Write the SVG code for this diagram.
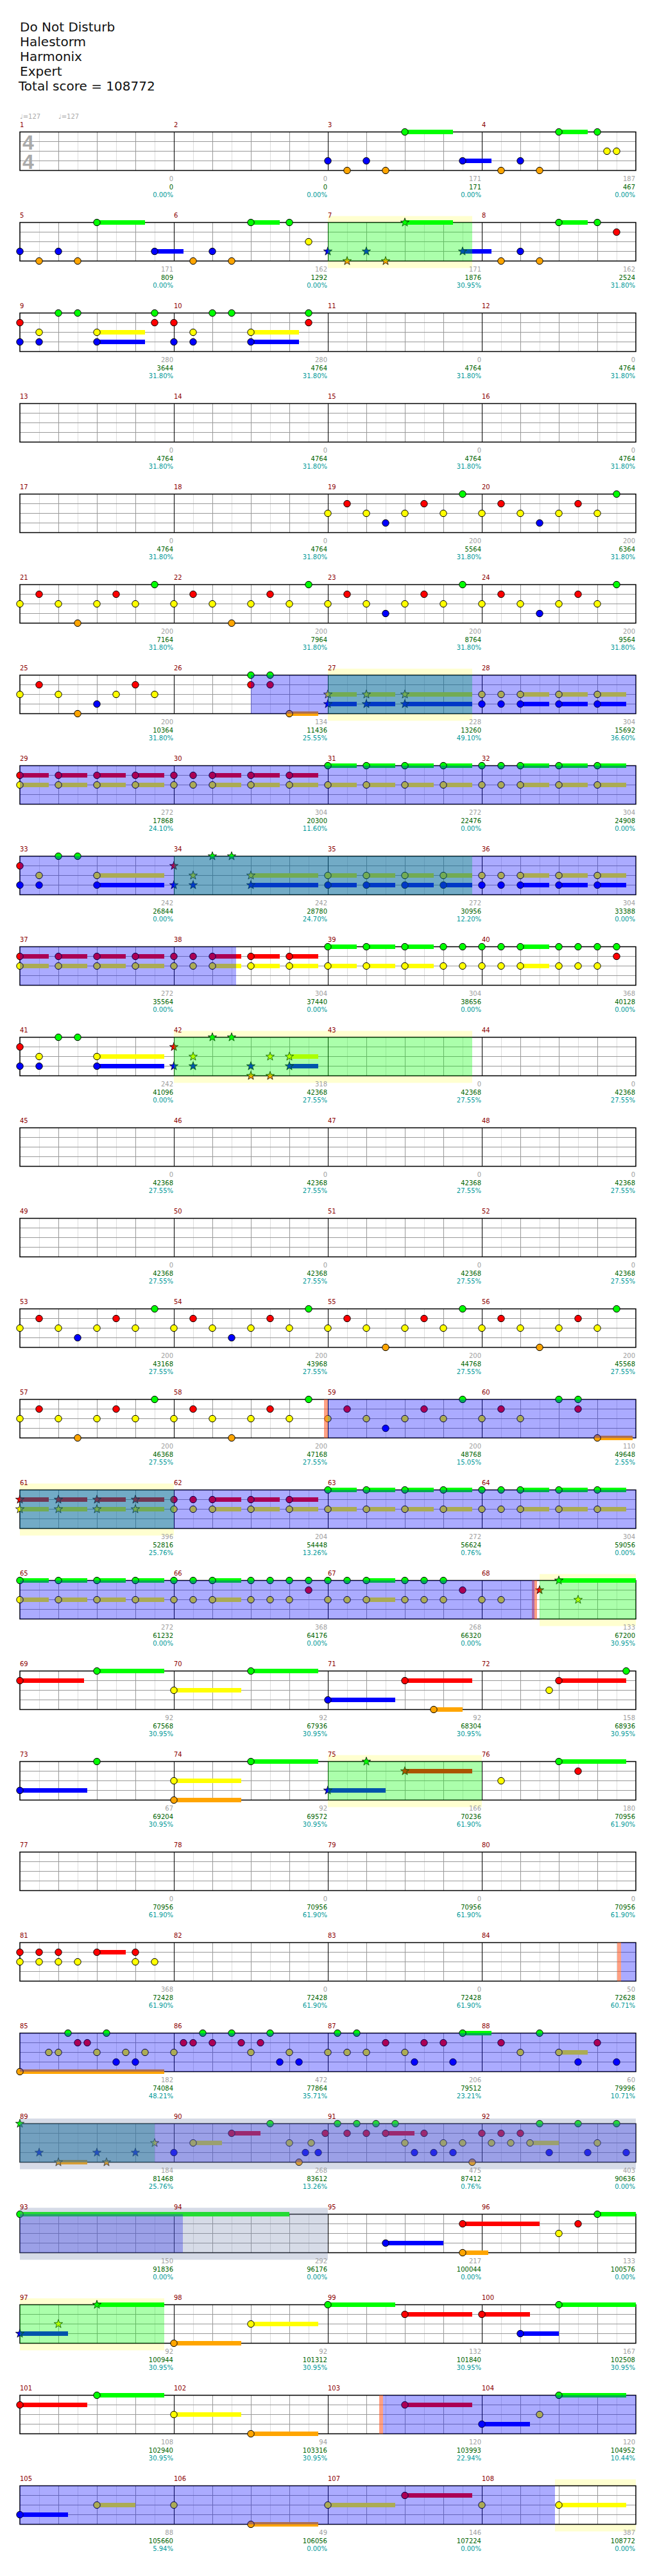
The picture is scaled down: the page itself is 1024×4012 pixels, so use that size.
<svg xmlns="http://www.w3.org/2000/svg" xmlns:xlink="http://www.w3.org/1999/xlink" width="1024" height="4012" viewBox="0 0 1024 4012">
<style>
text{font-family:"DejaVu Sans",Verdana,sans-serif}
.hd{font-size:20px;fill:#111}
.mn{font-size:10px;fill:#8b0000}
.c1{font-size:10px;fill:#a0a0a0;text-anchor:end}
.c2{font-size:10px;fill:#006400;text-anchor:end}
.c3{font-size:10px;fill:#009999;text-anchor:end}
.tp{font-size:10px;fill:#aaa}
.ts{font-family:"Liberation Sans",Arial,sans-serif;font-weight:bold;font-size:32px;fill:#aaa}
.sG{fill:#0f0}.sR{fill:#f00}.sY{fill:#ff0}.sB{fill:#00f}.sO{fill:#ffa500}
.yb{fill:#ffffd0}
.gv{fill:#0f0;fill-opacity:.33}
.bv{fill:#00f;fill-opacity:.33}
.bd{fill:#7688b0;fill-opacity:.3}
.mk{fill:#ff6030;fill-opacity:.6}
</style>
<defs>
<g id="staff">
<rect x="31" y="0" width="960" height="60" fill="#fff"/>
<path d="M61.5 0v60M121.5 0v60M181.5 0v60M241.5 0v60M301.5 0v60M361.5 0v60M421.5 0v60M481.5 0v60M541.5 0v60M601.5 0v60M661.5 0v60M721.5 0v60M781.5 0v60M841.5 0v60M901.5 0v60M961.5 0v60" stroke="#ddd" stroke-width="1"/>
<path d="M91.5 0v60M151.5 0v60M211.5 0v60M331.5 0v60M391.5 0v60M451.5 0v60M571.5 0v60M631.5 0v60M691.5 0v60M811.5 0v60M871.5 0v60M931.5 0v60M31 15h960M31 30h960M31 45h960" stroke="#999" stroke-width="1"/>
<path d="M271.5 0v60M511.5 0v60M751.5 0v60" stroke="#000" stroke-width="1"/>
<rect x="31" y="0" width="960" height="60" fill="none" stroke="#000" stroke-width="1.5"/>
</g>
<circle id="nG" r="5.2" fill="#0f0" stroke="#000" stroke-width="1"/>
<circle id="nR" r="5.2" fill="#f00" stroke="#000" stroke-width="1"/>
<circle id="nY" r="5.2" fill="#ff0" stroke="#000" stroke-width="1"/>
<circle id="nB" r="5.2" fill="#00f" stroke="#000" stroke-width="1"/>
<circle id="nO" r="5.2" fill="#ffa500" stroke="#000" stroke-width="1"/>
<path id="star" d="M0-7L1.65-2.27 6.66-2.16 2.66.87 4.11 5.66 0 2.8-4.11 5.66-2.66.87-6.66-2.16-1.65-2.27Z" stroke="#000" stroke-width=".8"/>
<use id="tG" href="#star" fill="#0f0"/>
<use id="tR" href="#star" fill="#f00"/>
<use id="tY" href="#star" fill="#ff0"/>
<use id="tB" href="#star" fill="#00f"/>
<use id="tO" href="#star" fill="#ffa500"/>
</defs>
<rect width="1024" height="4012" fill="#fff"/>
<g id="header">
<text class="hd" x="31" y="49">Do Not Disturb</text>
<text class="hd" x="31" y="72">Halestorm</text>
<text class="hd" x="31" y="95">Harmonix</text>
<text class="hd" x="31" y="118">Expert</text>
<text class="hd" x="29" y="141">Total score = 108772</text>
<text class="tp" x="31" y="185">♩=127</text>
<text class="tp" x="91" y="185">♩=127</text>
</g>

<g id="row1" transform="translate(0,205.5)">
<use href="#staff"/>
<text class="ts" x="35" y="27">4</text><text class="ts" x="35" y="57">4</text>
<g><rect class="sG" x="631" y="-3.5" width="75" height="7"/><rect class="sG" x="871" y="-3.5" width="45" height="7"/><use href="#nG" x="631"/><use href="#nG" x="871"/><use href="#nG" x="931"/></g>
<g transform="translate(0,30)"><use href="#nY" x="946"/><use href="#nY" x="961"/></g>
<g transform="translate(0,45)"><rect class="sB" x="721" y="-3.5" width="45" height="7"/><use href="#nB" x="511"/><use href="#nB" x="571"/><use href="#nB" x="721"/><use href="#nB" x="811"/></g>
<g transform="translate(0,60)"><use href="#nO" x="541"/><use href="#nO" x="601"/><use href="#nO" x="781"/><use href="#nO" x="841"/></g>
<text class="mn" x="31" y="-7.5">1</text><text class="mn" x="271" y="-7.5">2</text><text class="mn" x="511" y="-7.5">3</text><text class="mn" x="751" y="-7.5">4</text>
<text class="c1" x="270" y="76.5">0</text><text class="c2" x="270" y="89.5">0</text><text class="c3" x="270" y="101.5">0.00%</text>
<text class="c1" x="510" y="76.5">0</text><text class="c2" x="510" y="89.5">0</text><text class="c3" x="510" y="101.5">0.00%</text>
<text class="c1" x="750" y="76.5">171</text><text class="c2" x="750" y="89.5">171</text><text class="c3" x="750" y="101.5">0.00%</text>
<text class="c1" x="990" y="76.5">187</text><text class="c2" x="990" y="89.5">467</text><text class="c3" x="990" y="101.5">0.00%</text>
</g>

<g id="row2" transform="translate(0,346.5)">
<rect class="yb" x="511" y="-10" width="225" height="81"/>
<use href="#staff"/>
<g><rect class="sG" x="151" y="-3.5" width="75" height="7"/><rect class="sG" x="391" y="-3.5" width="45" height="7"/><rect class="sG" x="631" y="-3.5" width="75" height="7"/><rect class="sG" x="871" y="-3.5" width="45" height="7"/><use href="#nG" x="151"/><use href="#nG" x="391"/><use href="#nG" x="451"/><use href="#tG" x="631"/><use href="#nG" x="871"/><use href="#nG" x="931"/></g>
<g transform="translate(0,15)"><use href="#nR" x="961"/></g>
<g transform="translate(0,30)"><use href="#nY" x="481"/></g>
<g transform="translate(0,45)"><rect class="sB" x="241" y="-3.5" width="45" height="7"/><rect class="sB" x="721" y="-3.5" width="45" height="7"/><use href="#nB" x="31"/><use href="#nB" x="91"/><use href="#nB" x="241"/><use href="#nB" x="331"/><use href="#tB" x="511"/><use href="#tB" x="571"/><use href="#tB" x="721"/><use href="#nB" x="811"/></g>
<g transform="translate(0,60)"><use href="#nO" x="61"/><use href="#nO" x="121"/><use href="#nO" x="301"/><use href="#nO" x="361"/><use href="#tO" x="541"/><use href="#tO" x="601"/><use href="#nO" x="781"/><use href="#nO" x="841"/></g>
<rect class="gv" x="511" y="0" width="225" height="60"/>
<text class="mn" x="31" y="-7.5">5</text><text class="mn" x="271" y="-7.5">6</text><text class="mn" x="511" y="-7.5">7</text><text class="mn" x="751" y="-7.5">8</text>
<text class="c1" x="270" y="76.5">171</text><text class="c2" x="270" y="89.5">809</text><text class="c3" x="270" y="101.5">0.00%</text>
<text class="c1" x="510" y="76.5">162</text><text class="c2" x="510" y="89.5">1292</text><text class="c3" x="510" y="101.5">0.00%</text>
<text class="c1" x="750" y="76.5">171</text><text class="c2" x="750" y="89.5">1876</text><text class="c3" x="750" y="101.5">30.95%</text>
<text class="c1" x="990" y="76.5">162</text><text class="c2" x="990" y="89.5">2524</text><text class="c3" x="990" y="101.5">31.80%</text>
</g>

<g id="row3" transform="translate(0,487.5)">
<use href="#staff"/>
<g><use href="#nG" x="91"/><use href="#nG" x="121"/><use href="#nG" x="241"/><use href="#nG" x="331"/><use href="#nG" x="361"/><use href="#nG" x="481"/></g>
<g transform="translate(0,15)"><use href="#nR" x="31"/><use href="#nR" x="241"/><use href="#nR" x="271"/><use href="#nR" x="481"/></g>
<g transform="translate(0,30)"><rect class="sY" x="151" y="-3.5" width="75" height="7"/><rect class="sY" x="391" y="-3.5" width="75" height="7"/><use href="#nY" x="61"/><use href="#nY" x="151"/><use href="#nY" x="301"/><use href="#nY" x="391"/></g>
<g transform="translate(0,45)"><rect class="sB" x="151" y="-3.5" width="75" height="7"/><rect class="sB" x="391" y="-3.5" width="75" height="7"/><use href="#nB" x="31"/><use href="#nB" x="61"/><use href="#nB" x="151"/><use href="#nB" x="271"/><use href="#nB" x="301"/><use href="#nB" x="391"/></g>
<text class="mn" x="31" y="-7.5">9</text><text class="mn" x="271" y="-7.5">10</text><text class="mn" x="511" y="-7.5">11</text><text class="mn" x="751" y="-7.5">12</text>
<text class="c1" x="270" y="76.5">280</text><text class="c2" x="270" y="89.5">3644</text><text class="c3" x="270" y="101.5">31.80%</text>
<text class="c1" x="510" y="76.5">280</text><text class="c2" x="510" y="89.5">4764</text><text class="c3" x="510" y="101.5">31.80%</text>
<text class="c1" x="750" y="76.5">0</text><text class="c2" x="750" y="89.5">4764</text><text class="c3" x="750" y="101.5">31.80%</text>
<text class="c1" x="990" y="76.5">0</text><text class="c2" x="990" y="89.5">4764</text><text class="c3" x="990" y="101.5">31.80%</text>
</g>

<g id="row4" transform="translate(0,628.5)">
<use href="#staff"/>
<text class="mn" x="31" y="-7.5">13</text><text class="mn" x="271" y="-7.5">14</text><text class="mn" x="511" y="-7.5">15</text><text class="mn" x="751" y="-7.5">16</text>
<text class="c1" x="270" y="76.5">0</text><text class="c2" x="270" y="89.5">4764</text><text class="c3" x="270" y="101.5">31.80%</text>
<text class="c1" x="510" y="76.5">0</text><text class="c2" x="510" y="89.5">4764</text><text class="c3" x="510" y="101.5">31.80%</text>
<text class="c1" x="750" y="76.5">0</text><text class="c2" x="750" y="89.5">4764</text><text class="c3" x="750" y="101.5">31.80%</text>
<text class="c1" x="990" y="76.5">0</text><text class="c2" x="990" y="89.5">4764</text><text class="c3" x="990" y="101.5">31.80%</text>
</g>

<g id="row5" transform="translate(0,769.5)">
<use href="#staff"/>
<g><use href="#nG" x="721"/><use href="#nG" x="961"/></g>
<g transform="translate(0,15)"><use href="#nR" x="541"/><use href="#nR" x="661"/><use href="#nR" x="781"/><use href="#nR" x="901"/></g>
<g transform="translate(0,30)"><use href="#nY" x="511"/><use href="#nY" x="571"/><use href="#nY" x="631"/><use href="#nY" x="691"/><use href="#nY" x="751"/><use href="#nY" x="811"/><use href="#nY" x="871"/><use href="#nY" x="931"/></g>
<g transform="translate(0,45)"><use href="#nB" x="601"/><use href="#nB" x="841"/></g>
<text class="mn" x="31" y="-7.5">17</text><text class="mn" x="271" y="-7.5">18</text><text class="mn" x="511" y="-7.5">19</text><text class="mn" x="751" y="-7.5">20</text>
<text class="c1" x="270" y="76.5">0</text><text class="c2" x="270" y="89.5">4764</text><text class="c3" x="270" y="101.5">31.80%</text>
<text class="c1" x="510" y="76.5">0</text><text class="c2" x="510" y="89.5">4764</text><text class="c3" x="510" y="101.5">31.80%</text>
<text class="c1" x="750" y="76.5">200</text><text class="c2" x="750" y="89.5">5564</text><text class="c3" x="750" y="101.5">31.80%</text>
<text class="c1" x="990" y="76.5">200</text><text class="c2" x="990" y="89.5">6364</text><text class="c3" x="990" y="101.5">31.80%</text>
</g>

<g id="row6" transform="translate(0,910.5)">
<use href="#staff"/>
<g><use href="#nG" x="241"/><use href="#nG" x="481"/><use href="#nG" x="721"/><use href="#nG" x="961"/></g>
<g transform="translate(0,15)"><use href="#nR" x="61"/><use href="#nR" x="181"/><use href="#nR" x="301"/><use href="#nR" x="421"/><use href="#nR" x="541"/><use href="#nR" x="661"/><use href="#nR" x="781"/><use href="#nR" x="901"/></g>
<g transform="translate(0,30)"><use href="#nY" x="31"/><use href="#nY" x="91"/><use href="#nY" x="151"/><use href="#nY" x="211"/><use href="#nY" x="271"/><use href="#nY" x="331"/><use href="#nY" x="391"/><use href="#nY" x="451"/><use href="#nY" x="511"/><use href="#nY" x="571"/><use href="#nY" x="631"/><use href="#nY" x="691"/><use href="#nY" x="751"/><use href="#nY" x="811"/><use href="#nY" x="871"/><use href="#nY" x="931"/></g>
<g transform="translate(0,45)"><use href="#nB" x="601"/><use href="#nB" x="841"/></g>
<g transform="translate(0,60)"><use href="#nO" x="121"/><use href="#nO" x="361"/></g>
<text class="mn" x="31" y="-7.5">21</text><text class="mn" x="271" y="-7.5">22</text><text class="mn" x="511" y="-7.5">23</text><text class="mn" x="751" y="-7.5">24</text>
<text class="c1" x="270" y="76.5">200</text><text class="c2" x="270" y="89.5">7164</text><text class="c3" x="270" y="101.5">31.80%</text>
<text class="c1" x="510" y="76.5">200</text><text class="c2" x="510" y="89.5">7964</text><text class="c3" x="510" y="101.5">31.80%</text>
<text class="c1" x="750" y="76.5">200</text><text class="c2" x="750" y="89.5">8764</text><text class="c3" x="750" y="101.5">31.80%</text>
<text class="c1" x="990" y="76.5">200</text><text class="c2" x="990" y="89.5">9564</text><text class="c3" x="990" y="101.5">31.80%</text>
</g>

<g id="row7" transform="translate(0,1051.5)">
<rect class="yb" x="511" y="-10" width="225" height="81"/>
<use href="#staff"/>
<g><use href="#nG" x="391"/><use href="#nG" x="421"/></g>
<g transform="translate(0,15)"><use href="#nR" x="61"/><use href="#nR" x="211"/><use href="#nR" x="391"/><use href="#nR" x="421"/></g>
<g transform="translate(0,30)"><rect class="sY" x="511" y="-3.5" width="45" height="7"/><rect class="sY" x="571" y="-3.5" width="45" height="7"/><rect class="sY" x="631" y="-3.5" width="105" height="7"/><rect class="sY" x="811" y="-3.5" width="45" height="7"/><rect class="sY" x="871" y="-3.5" width="45" height="7"/><rect class="sY" x="931" y="-3.5" width="45" height="7"/><use href="#nY" x="31"/><use href="#nY" x="91"/><use href="#nY" x="181"/><use href="#nY" x="241"/><use href="#tY" x="511"/><use href="#tY" x="571"/><use href="#tY" x="631"/><use href="#nY" x="751"/><use href="#nY" x="781"/><use href="#nY" x="811"/><use href="#nY" x="871"/><use href="#nY" x="931"/></g>
<g transform="translate(0,45)"><rect class="sB" x="511" y="-3.5" width="45" height="7"/><rect class="sB" x="571" y="-3.5" width="45" height="7"/><rect class="sB" x="631" y="-3.5" width="105" height="7"/><rect class="sB" x="811" y="-3.5" width="45" height="7"/><rect class="sB" x="871" y="-3.5" width="45" height="7"/><rect class="sB" x="931" y="-3.5" width="45" height="7"/><use href="#nB" x="151"/><use href="#tB" x="511"/><use href="#tB" x="571"/><use href="#tB" x="631"/><use href="#nB" x="751"/><use href="#nB" x="781"/><use href="#nB" x="811"/><use href="#nB" x="871"/><use href="#nB" x="931"/></g>
<g transform="translate(0,60)"><rect class="sO" x="451" y="-3.5" width="45" height="7"/><use href="#nO" x="121"/><use href="#nO" x="451"/></g>
<rect class="gv" x="511" y="0" width="225" height="60"/>
<rect class="bv" x="391" y="0" width="600" height="60"/>
<text class="mn" x="31" y="-7.5">25</text><text class="mn" x="271" y="-7.5">26</text><text class="mn" x="511" y="-7.5">27</text><text class="mn" x="751" y="-7.5">28</text>
<text class="c1" x="270" y="76.5">200</text><text class="c2" x="270" y="89.5">10364</text><text class="c3" x="270" y="101.5">31.80%</text>
<text class="c1" x="510" y="76.5">134</text><text class="c2" x="510" y="89.5">11436</text><text class="c3" x="510" y="101.5">25.55%</text>
<text class="c1" x="750" y="76.5">228</text><text class="c2" x="750" y="89.5">13260</text><text class="c3" x="750" y="101.5">49.10%</text>
<text class="c1" x="990" y="76.5">304</text><text class="c2" x="990" y="89.5">15692</text><text class="c3" x="990" y="101.5">36.60%</text>
</g>

<g id="row8" transform="translate(0,1192.5)">
<use href="#staff"/>
<g><rect class="sG" x="511" y="-3.5" width="45" height="7"/><rect class="sG" x="571" y="-3.5" width="45" height="7"/><rect class="sG" x="631" y="-3.5" width="45" height="7"/><rect class="sG" x="691" y="-3.5" width="45" height="7"/><rect class="sG" x="811" y="-3.5" width="45" height="7"/><rect class="sG" x="871" y="-3.5" width="45" height="7"/><rect class="sG" x="931" y="-3.5" width="45" height="7"/><use href="#nG" x="511"/><use href="#nG" x="571"/><use href="#nG" x="631"/><use href="#nG" x="691"/><use href="#nG" x="751"/><use href="#nG" x="781"/><use href="#nG" x="811"/><use href="#nG" x="871"/><use href="#nG" x="931"/></g>
<g transform="translate(0,15)"><rect class="sR" x="31" y="-3.5" width="45" height="7"/><rect class="sR" x="91" y="-3.5" width="45" height="7"/><rect class="sR" x="151" y="-3.5" width="45" height="7"/><rect class="sR" x="211" y="-3.5" width="45" height="7"/><rect class="sR" x="331" y="-3.5" width="45" height="7"/><rect class="sR" x="391" y="-3.5" width="45" height="7"/><rect class="sR" x="451" y="-3.5" width="45" height="7"/><use href="#nR" x="31"/><use href="#nR" x="91"/><use href="#nR" x="151"/><use href="#nR" x="211"/><use href="#nR" x="271"/><use href="#nR" x="301"/><use href="#nR" x="331"/><use href="#nR" x="391"/><use href="#nR" x="451"/></g>
<g transform="translate(0,30)"><rect class="sY" x="31" y="-3.5" width="45" height="7"/><rect class="sY" x="91" y="-3.5" width="45" height="7"/><rect class="sY" x="151" y="-3.5" width="45" height="7"/><rect class="sY" x="211" y="-3.5" width="45" height="7"/><rect class="sY" x="331" y="-3.5" width="45" height="7"/><rect class="sY" x="391" y="-3.5" width="45" height="7"/><rect class="sY" x="451" y="-3.5" width="45" height="7"/><rect class="sY" x="511" y="-3.5" width="45" height="7"/><rect class="sY" x="571" y="-3.5" width="45" height="7"/><rect class="sY" x="631" y="-3.5" width="45" height="7"/><rect class="sY" x="691" y="-3.5" width="45" height="7"/><rect class="sY" x="811" y="-3.5" width="45" height="7"/><rect class="sY" x="871" y="-3.5" width="45" height="7"/><rect class="sY" x="931" y="-3.5" width="45" height="7"/><use href="#nY" x="31"/><use href="#nY" x="91"/><use href="#nY" x="151"/><use href="#nY" x="211"/><use href="#nY" x="271"/><use href="#nY" x="301"/><use href="#nY" x="331"/><use href="#nY" x="391"/><use href="#nY" x="451"/><use href="#nY" x="511"/><use href="#nY" x="571"/><use href="#nY" x="631"/><use href="#nY" x="691"/><use href="#nY" x="751"/><use href="#nY" x="781"/><use href="#nY" x="811"/><use href="#nY" x="871"/><use href="#nY" x="931"/></g>
<rect class="bv" x="31" y="0" width="960" height="60"/>
<text class="mn" x="31" y="-7.5">29</text><text class="mn" x="271" y="-7.5">30</text><text class="mn" x="511" y="-7.5">31</text><text class="mn" x="751" y="-7.5">32</text>
<text class="c1" x="270" y="76.5">272</text><text class="c2" x="270" y="89.5">17868</text><text class="c3" x="270" y="101.5">24.10%</text>
<text class="c1" x="510" y="76.5">304</text><text class="c2" x="510" y="89.5">20300</text><text class="c3" x="510" y="101.5">11.60%</text>
<text class="c1" x="750" y="76.5">272</text><text class="c2" x="750" y="89.5">22476</text><text class="c3" x="750" y="101.5">0.00%</text>
<text class="c1" x="990" y="76.5">304</text><text class="c2" x="990" y="89.5">24908</text><text class="c3" x="990" y="101.5">0.00%</text>
</g>

<g id="row9" transform="translate(0,1333.5)">
<use href="#staff"/>
<g><use href="#nG" x="91"/><use href="#nG" x="121"/><use href="#tG" x="331"/><use href="#tG" x="361"/></g>
<g transform="translate(0,15)"><use href="#nR" x="31"/><use href="#tR" x="271"/></g>
<g transform="translate(0,30)"><rect class="sY" x="151" y="-3.5" width="105" height="7"/><rect class="sY" x="391" y="-3.5" width="105" height="7"/><rect class="sY" x="511" y="-3.5" width="45" height="7"/><rect class="sY" x="571" y="-3.5" width="45" height="7"/><rect class="sY" x="631" y="-3.5" width="45" height="7"/><rect class="sY" x="691" y="-3.5" width="45" height="7"/><rect class="sY" x="811" y="-3.5" width="45" height="7"/><rect class="sY" x="871" y="-3.5" width="45" height="7"/><rect class="sY" x="931" y="-3.5" width="45" height="7"/><use href="#nY" x="61"/><use href="#nY" x="151"/><use href="#tY" x="301"/><use href="#tY" x="391"/><use href="#nY" x="511"/><use href="#nY" x="571"/><use href="#nY" x="631"/><use href="#nY" x="691"/><use href="#nY" x="751"/><use href="#nY" x="781"/><use href="#nY" x="811"/><use href="#nY" x="871"/><use href="#nY" x="931"/></g>
<g transform="translate(0,45)"><rect class="sB" x="151" y="-3.5" width="105" height="7"/><rect class="sB" x="391" y="-3.5" width="105" height="7"/><rect class="sB" x="511" y="-3.5" width="45" height="7"/><rect class="sB" x="571" y="-3.5" width="45" height="7"/><rect class="sB" x="631" y="-3.5" width="45" height="7"/><rect class="sB" x="691" y="-3.5" width="45" height="7"/><rect class="sB" x="811" y="-3.5" width="45" height="7"/><rect class="sB" x="871" y="-3.5" width="45" height="7"/><rect class="sB" x="931" y="-3.5" width="45" height="7"/><use href="#nB" x="31"/><use href="#nB" x="61"/><use href="#nB" x="151"/><use href="#tB" x="271"/><use href="#tB" x="301"/><use href="#tB" x="391"/><use href="#nB" x="511"/><use href="#nB" x="571"/><use href="#nB" x="631"/><use href="#nB" x="691"/><use href="#nB" x="751"/><use href="#nB" x="781"/><use href="#nB" x="811"/><use href="#nB" x="871"/><use href="#nB" x="931"/></g>
<rect class="gv" x="271" y="0" width="465" height="60"/>
<rect class="bv" x="31" y="0" width="960" height="60"/>
<text class="mn" x="31" y="-7.5">33</text><text class="mn" x="271" y="-7.5">34</text><text class="mn" x="511" y="-7.5">35</text><text class="mn" x="751" y="-7.5">36</text>
<text class="c1" x="270" y="76.5">242</text><text class="c2" x="270" y="89.5">26844</text><text class="c3" x="270" y="101.5">0.00%</text>
<text class="c1" x="510" y="76.5">242</text><text class="c2" x="510" y="89.5">28780</text><text class="c3" x="510" y="101.5">24.70%</text>
<text class="c1" x="750" y="76.5">272</text><text class="c2" x="750" y="89.5">30956</text><text class="c3" x="750" y="101.5">12.20%</text>
<text class="c1" x="990" y="76.5">304</text><text class="c2" x="990" y="89.5">33388</text><text class="c3" x="990" y="101.5">0.00%</text>
</g>

<g id="row10" transform="translate(0,1474.5)">
<use href="#staff"/>
<g><rect class="sG" x="511" y="-3.5" width="45" height="7"/><rect class="sG" x="571" y="-3.5" width="45" height="7"/><rect class="sG" x="631" y="-3.5" width="45" height="7"/><rect class="sG" x="811" y="-3.5" width="45" height="7"/><use href="#nG" x="511"/><use href="#nG" x="571"/><use href="#nG" x="631"/><use href="#nG" x="691"/><use href="#nG" x="721"/><use href="#nG" x="751"/><use href="#nG" x="781"/><use href="#nG" x="811"/><use href="#nG" x="871"/><use href="#nG" x="901"/><use href="#nG" x="931"/><use href="#nG" x="961"/></g>
<g transform="translate(0,15)"><rect class="sR" x="31" y="-3.5" width="45" height="7"/><rect class="sR" x="91" y="-3.5" width="45" height="7"/><rect class="sR" x="151" y="-3.5" width="45" height="7"/><rect class="sR" x="211" y="-3.5" width="45" height="7"/><rect class="sR" x="331" y="-3.5" width="45" height="7"/><rect class="sR" x="391" y="-3.5" width="45" height="7"/><rect class="sR" x="451" y="-3.5" width="45" height="7"/><use href="#nR" x="31"/><use href="#nR" x="91"/><use href="#nR" x="151"/><use href="#nR" x="211"/><use href="#nR" x="271"/><use href="#nR" x="301"/><use href="#nR" x="331"/><use href="#nR" x="391"/><use href="#nR" x="451"/><use href="#nR" x="961"/></g>
<g transform="translate(0,30)"><rect class="sY" x="31" y="-3.5" width="45" height="7"/><rect class="sY" x="91" y="-3.5" width="45" height="7"/><rect class="sY" x="151" y="-3.5" width="45" height="7"/><rect class="sY" x="211" y="-3.5" width="45" height="7"/><rect class="sY" x="331" y="-3.5" width="45" height="7"/><rect class="sY" x="391" y="-3.5" width="45" height="7"/><rect class="sY" x="451" y="-3.5" width="45" height="7"/><rect class="sY" x="511" y="-3.5" width="45" height="7"/><rect class="sY" x="571" y="-3.5" width="45" height="7"/><rect class="sY" x="631" y="-3.5" width="45" height="7"/><rect class="sY" x="811" y="-3.5" width="45" height="7"/><use href="#nY" x="31"/><use href="#nY" x="91"/><use href="#nY" x="151"/><use href="#nY" x="211"/><use href="#nY" x="271"/><use href="#nY" x="301"/><use href="#nY" x="331"/><use href="#nY" x="391"/><use href="#nY" x="451"/><use href="#nY" x="511"/><use href="#nY" x="571"/><use href="#nY" x="631"/><use href="#nY" x="691"/><use href="#nY" x="721"/><use href="#nY" x="751"/><use href="#nY" x="781"/><use href="#nY" x="811"/><use href="#nY" x="871"/><use href="#nY" x="901"/><use href="#nY" x="931"/></g>
<rect class="bv" x="31" y="0" width="337" height="60"/>
<text class="mn" x="31" y="-7.5">37</text><text class="mn" x="271" y="-7.5">38</text><text class="mn" x="511" y="-7.5">39</text><text class="mn" x="751" y="-7.5">40</text>
<text class="c1" x="270" y="76.5">272</text><text class="c2" x="270" y="89.5">35564</text><text class="c3" x="270" y="101.5">0.00%</text>
<text class="c1" x="510" y="76.5">304</text><text class="c2" x="510" y="89.5">37440</text><text class="c3" x="510" y="101.5">0.00%</text>
<text class="c1" x="750" y="76.5">304</text><text class="c2" x="750" y="89.5">38656</text><text class="c3" x="750" y="101.5">0.00%</text>
<text class="c1" x="990" y="76.5">368</text><text class="c2" x="990" y="89.5">40128</text><text class="c3" x="990" y="101.5">0.00%</text>
</g>

<g id="row11" transform="translate(0,1615.5)">
<rect class="yb" x="271" y="-10" width="465" height="81"/>
<use href="#staff"/>
<g><use href="#nG" x="91"/><use href="#nG" x="121"/><use href="#tG" x="331"/><use href="#tG" x="361"/></g>
<g transform="translate(0,15)"><use href="#nR" x="31"/><use href="#tR" x="271"/></g>
<g transform="translate(0,30)"><rect class="sY" x="151" y="-3.5" width="105" height="7"/><rect class="sY" x="451" y="-3.5" width="45" height="7"/><use href="#nY" x="61"/><use href="#nY" x="151"/><use href="#tY" x="301"/><use href="#tY" x="421"/><use href="#tY" x="451"/></g>
<g transform="translate(0,45)"><rect class="sB" x="151" y="-3.5" width="105" height="7"/><rect class="sB" x="451" y="-3.5" width="45" height="7"/><use href="#nB" x="31"/><use href="#nB" x="61"/><use href="#nB" x="151"/><use href="#tB" x="271"/><use href="#tB" x="301"/><use href="#tB" x="391"/><use href="#tB" x="451"/></g>
<g transform="translate(0,60)"><use href="#tO" x="391"/><use href="#tO" x="421"/></g>
<rect class="gv" x="271" y="0" width="465" height="60"/>
<text class="mn" x="31" y="-7.5">41</text><text class="mn" x="271" y="-7.5">42</text><text class="mn" x="511" y="-7.5">43</text><text class="mn" x="751" y="-7.5">44</text>
<text class="c1" x="270" y="76.5">242</text><text class="c2" x="270" y="89.5">41096</text><text class="c3" x="270" y="101.5">0.00%</text>
<text class="c1" x="510" y="76.5">318</text><text class="c2" x="510" y="89.5">42368</text><text class="c3" x="510" y="101.5">27.55%</text>
<text class="c1" x="750" y="76.5">0</text><text class="c2" x="750" y="89.5">42368</text><text class="c3" x="750" y="101.5">27.55%</text>
<text class="c1" x="990" y="76.5">0</text><text class="c2" x="990" y="89.5">42368</text><text class="c3" x="990" y="101.5">27.55%</text>
</g>

<g id="row12" transform="translate(0,1756.5)">
<use href="#staff"/>
<text class="mn" x="31" y="-7.5">45</text><text class="mn" x="271" y="-7.5">46</text><text class="mn" x="511" y="-7.5">47</text><text class="mn" x="751" y="-7.5">48</text>
<text class="c1" x="270" y="76.5">0</text><text class="c2" x="270" y="89.5">42368</text><text class="c3" x="270" y="101.5">27.55%</text>
<text class="c1" x="510" y="76.5">0</text><text class="c2" x="510" y="89.5">42368</text><text class="c3" x="510" y="101.5">27.55%</text>
<text class="c1" x="750" y="76.5">0</text><text class="c2" x="750" y="89.5">42368</text><text class="c3" x="750" y="101.5">27.55%</text>
<text class="c1" x="990" y="76.5">0</text><text class="c2" x="990" y="89.5">42368</text><text class="c3" x="990" y="101.5">27.55%</text>
</g>

<g id="row13" transform="translate(0,1897.5)">
<use href="#staff"/>
<text class="mn" x="31" y="-7.5">49</text><text class="mn" x="271" y="-7.5">50</text><text class="mn" x="511" y="-7.5">51</text><text class="mn" x="751" y="-7.5">52</text>
<text class="c1" x="270" y="76.5">0</text><text class="c2" x="270" y="89.5">42368</text><text class="c3" x="270" y="101.5">27.55%</text>
<text class="c1" x="510" y="76.5">0</text><text class="c2" x="510" y="89.5">42368</text><text class="c3" x="510" y="101.5">27.55%</text>
<text class="c1" x="750" y="76.5">0</text><text class="c2" x="750" y="89.5">42368</text><text class="c3" x="750" y="101.5">27.55%</text>
<text class="c1" x="990" y="76.5">0</text><text class="c2" x="990" y="89.5">42368</text><text class="c3" x="990" y="101.5">27.55%</text>
</g>

<g id="row14" transform="translate(0,2038.5)">
<use href="#staff"/>
<g><use href="#nG" x="241"/><use href="#nG" x="481"/><use href="#nG" x="721"/><use href="#nG" x="961"/></g>
<g transform="translate(0,15)"><use href="#nR" x="61"/><use href="#nR" x="181"/><use href="#nR" x="301"/><use href="#nR" x="421"/><use href="#nR" x="541"/><use href="#nR" x="661"/><use href="#nR" x="781"/><use href="#nR" x="901"/></g>
<g transform="translate(0,30)"><use href="#nY" x="31"/><use href="#nY" x="91"/><use href="#nY" x="151"/><use href="#nY" x="211"/><use href="#nY" x="271"/><use href="#nY" x="331"/><use href="#nY" x="391"/><use href="#nY" x="451"/><use href="#nY" x="511"/><use href="#nY" x="571"/><use href="#nY" x="631"/><use href="#nY" x="691"/><use href="#nY" x="751"/><use href="#nY" x="811"/><use href="#nY" x="871"/><use href="#nY" x="931"/></g>
<g transform="translate(0,45)"><use href="#nB" x="121"/><use href="#nB" x="361"/></g>
<g transform="translate(0,60)"><use href="#nO" x="601"/><use href="#nO" x="841"/></g>
<text class="mn" x="31" y="-7.5">53</text><text class="mn" x="271" y="-7.5">54</text><text class="mn" x="511" y="-7.5">55</text><text class="mn" x="751" y="-7.5">56</text>
<text class="c1" x="270" y="76.5">200</text><text class="c2" x="270" y="89.5">43168</text><text class="c3" x="270" y="101.5">27.55%</text>
<text class="c1" x="510" y="76.5">200</text><text class="c2" x="510" y="89.5">43968</text><text class="c3" x="510" y="101.5">27.55%</text>
<text class="c1" x="750" y="76.5">200</text><text class="c2" x="750" y="89.5">44768</text><text class="c3" x="750" y="101.5">27.55%</text>
<text class="c1" x="990" y="76.5">200</text><text class="c2" x="990" y="89.5">45568</text><text class="c3" x="990" y="101.5">27.55%</text>
</g>

<g id="row15" transform="translate(0,2179.5)">
<use href="#staff"/>
<g><use href="#nG" x="241"/><use href="#nG" x="481"/><use href="#nG" x="721"/><use href="#nG" x="871"/><use href="#nG" x="901"/></g>
<g transform="translate(0,15)"><use href="#nR" x="61"/><use href="#nR" x="181"/><use href="#nR" x="301"/><use href="#nR" x="421"/><use href="#nR" x="541"/><use href="#nR" x="661"/><use href="#nR" x="781"/><use href="#nR" x="901"/></g>
<g transform="translate(0,30)"><use href="#nY" x="31"/><use href="#nY" x="91"/><use href="#nY" x="151"/><use href="#nY" x="211"/><use href="#nY" x="271"/><use href="#nY" x="331"/><use href="#nY" x="391"/><use href="#nY" x="451"/><use href="#nY" x="511"/><use href="#nY" x="571"/><use href="#nY" x="631"/><use href="#nY" x="691"/><use href="#nY" x="751"/><use href="#nY" x="811"/></g>
<g transform="translate(0,45)"><use href="#nB" x="601"/></g>
<g transform="translate(0,60)"><rect class="sO" x="931" y="-3.5" width="55" height="7"/><use href="#nO" x="121"/><use href="#nO" x="361"/><use href="#nO" x="931"/></g>
<rect class="mk" x="505" y="0" width="6" height="60"/>
<rect class="bv" x="511" y="0" width="480" height="60"/>
<text class="mn" x="31" y="-7.5">57</text><text class="mn" x="271" y="-7.5">58</text><text class="mn" x="511" y="-7.5">59</text><text class="mn" x="751" y="-7.5">60</text>
<text class="c1" x="270" y="76.5">200</text><text class="c2" x="270" y="89.5">46368</text><text class="c3" x="270" y="101.5">27.55%</text>
<text class="c1" x="510" y="76.5">200</text><text class="c2" x="510" y="89.5">47168</text><text class="c3" x="510" y="101.5">27.55%</text>
<text class="c1" x="750" y="76.5">200</text><text class="c2" x="750" y="89.5">48768</text><text class="c3" x="750" y="101.5">15.05%</text>
<text class="c1" x="990" y="76.5">110</text><text class="c2" x="990" y="89.5">49648</text><text class="c3" x="990" y="101.5">2.55%</text>
</g>

<g id="row16" transform="translate(0,2320.5)">
<rect class="yb" x="31" y="-10" width="240" height="81"/>
<use href="#staff"/>
<g><rect class="sG" x="511" y="-3.5" width="45" height="7"/><rect class="sG" x="571" y="-3.5" width="45" height="7"/><rect class="sG" x="631" y="-3.5" width="45" height="7"/><rect class="sG" x="691" y="-3.5" width="45" height="7"/><rect class="sG" x="811" y="-3.5" width="45" height="7"/><rect class="sG" x="871" y="-3.5" width="45" height="7"/><rect class="sG" x="931" y="-3.5" width="45" height="7"/><use href="#nG" x="511"/><use href="#nG" x="571"/><use href="#nG" x="631"/><use href="#nG" x="691"/><use href="#nG" x="751"/><use href="#nG" x="781"/><use href="#nG" x="811"/><use href="#nG" x="871"/><use href="#nG" x="931"/></g>
<g transform="translate(0,15)"><rect class="sR" x="31" y="-3.5" width="45" height="7"/><rect class="sR" x="91" y="-3.5" width="45" height="7"/><rect class="sR" x="151" y="-3.5" width="45" height="7"/><rect class="sR" x="211" y="-3.5" width="45" height="7"/><rect class="sR" x="331" y="-3.5" width="45" height="7"/><rect class="sR" x="391" y="-3.5" width="45" height="7"/><rect class="sR" x="451" y="-3.5" width="45" height="7"/><use href="#tR" x="31"/><use href="#tR" x="91"/><use href="#tR" x="151"/><use href="#tR" x="211"/><use href="#nR" x="271"/><use href="#nR" x="301"/><use href="#nR" x="331"/><use href="#nR" x="391"/><use href="#nR" x="451"/></g>
<g transform="translate(0,30)"><rect class="sY" x="31" y="-3.5" width="45" height="7"/><rect class="sY" x="91" y="-3.5" width="45" height="7"/><rect class="sY" x="151" y="-3.5" width="45" height="7"/><rect class="sY" x="211" y="-3.5" width="45" height="7"/><rect class="sY" x="331" y="-3.5" width="45" height="7"/><rect class="sY" x="391" y="-3.5" width="45" height="7"/><rect class="sY" x="451" y="-3.5" width="45" height="7"/><rect class="sY" x="511" y="-3.5" width="45" height="7"/><rect class="sY" x="571" y="-3.5" width="45" height="7"/><rect class="sY" x="631" y="-3.5" width="45" height="7"/><rect class="sY" x="691" y="-3.5" width="45" height="7"/><rect class="sY" x="811" y="-3.5" width="45" height="7"/><rect class="sY" x="871" y="-3.5" width="45" height="7"/><rect class="sY" x="931" y="-3.5" width="45" height="7"/><use href="#tY" x="31"/><use href="#tY" x="91"/><use href="#tY" x="151"/><use href="#tY" x="211"/><use href="#nY" x="271"/><use href="#nY" x="301"/><use href="#nY" x="331"/><use href="#nY" x="391"/><use href="#nY" x="451"/><use href="#nY" x="511"/><use href="#nY" x="571"/><use href="#nY" x="631"/><use href="#nY" x="691"/><use href="#nY" x="751"/><use href="#nY" x="781"/><use href="#nY" x="811"/><use href="#nY" x="871"/><use href="#nY" x="931"/></g>
<rect class="gv" x="31" y="0" width="240" height="60"/>
<rect class="bv" x="31" y="0" width="960" height="60"/>
<text class="mn" x="31" y="-7.5">61</text><text class="mn" x="271" y="-7.5">62</text><text class="mn" x="511" y="-7.5">63</text><text class="mn" x="751" y="-7.5">64</text>
<text class="c1" x="270" y="76.5">396</text><text class="c2" x="270" y="89.5">52816</text><text class="c3" x="270" y="101.5">25.76%</text>
<text class="c1" x="510" y="76.5">204</text><text class="c2" x="510" y="89.5">54448</text><text class="c3" x="510" y="101.5">13.26%</text>
<text class="c1" x="750" y="76.5">272</text><text class="c2" x="750" y="89.5">56624</text><text class="c3" x="750" y="101.5">0.76%</text>
<text class="c1" x="990" y="76.5">304</text><text class="c2" x="990" y="89.5">59056</text><text class="c3" x="990" y="101.5">0.00%</text>
</g>

<g id="row17" transform="translate(0,2461.5)">
<rect class="yb" x="841" y="-10" width="150" height="81"/>
<use href="#staff"/>
<g><rect class="sG" x="31" y="-3.5" width="45" height="7"/><rect class="sG" x="91" y="-3.5" width="45" height="7"/><rect class="sG" x="151" y="-3.5" width="45" height="7"/><rect class="sG" x="211" y="-3.5" width="45" height="7"/><rect class="sG" x="331" y="-3.5" width="45" height="7"/><rect class="sG" x="571" y="-3.5" width="45" height="7"/><rect class="sG" x="871" y="-3.5" width="120" height="7"/><use href="#nG" x="31"/><use href="#nG" x="91"/><use href="#nG" x="151"/><use href="#nG" x="211"/><use href="#nG" x="271"/><use href="#nG" x="301"/><use href="#nG" x="331"/><use href="#nG" x="391"/><use href="#nG" x="421"/><use href="#nG" x="451"/><use href="#nG" x="481"/><use href="#nG" x="511"/><use href="#nG" x="541"/><use href="#nG" x="571"/><use href="#nG" x="631"/><use href="#nG" x="661"/><use href="#nG" x="691"/><use href="#tG" x="871"/></g>
<g transform="translate(0,15)"><use href="#nR" x="481"/><use href="#nR" x="721"/><use href="#tR" x="841"/></g>
<g transform="translate(0,30)"><rect class="sY" x="31" y="-3.5" width="45" height="7"/><rect class="sY" x="91" y="-3.5" width="45" height="7"/><rect class="sY" x="151" y="-3.5" width="45" height="7"/><rect class="sY" x="211" y="-3.5" width="45" height="7"/><rect class="sY" x="331" y="-3.5" width="45" height="7"/><rect class="sY" x="571" y="-3.5" width="45" height="7"/><use href="#nY" x="31"/><use href="#nY" x="91"/><use href="#nY" x="151"/><use href="#nY" x="211"/><use href="#nY" x="271"/><use href="#nY" x="301"/><use href="#nY" x="331"/><use href="#nY" x="391"/><use href="#nY" x="421"/><use href="#nY" x="451"/><use href="#nY" x="511"/><use href="#nY" x="541"/><use href="#nY" x="571"/><use href="#nY" x="631"/><use href="#nY" x="661"/><use href="#nY" x="691"/><use href="#nY" x="751"/><use href="#nY" x="781"/><use href="#tY" x="901"/></g>
<rect class="gv" x="841" y="0" width="150" height="60"/>
<rect class="mk" x="829" y="0" width="8" height="60"/>
<rect class="bv" x="31" y="0" width="802" height="60"/>
<text class="mn" x="31" y="-7.5">65</text><text class="mn" x="271" y="-7.5">66</text><text class="mn" x="511" y="-7.5">67</text><text class="mn" x="751" y="-7.5">68</text>
<text class="c1" x="270" y="76.5">272</text><text class="c2" x="270" y="89.5">61232</text><text class="c3" x="270" y="101.5">0.00%</text>
<text class="c1" x="510" y="76.5">368</text><text class="c2" x="510" y="89.5">64176</text><text class="c3" x="510" y="101.5">0.00%</text>
<text class="c1" x="750" y="76.5">268</text><text class="c2" x="750" y="89.5">66320</text><text class="c3" x="750" y="101.5">0.00%</text>
<text class="c1" x="990" y="76.5">133</text><text class="c2" x="990" y="89.5">67200</text><text class="c3" x="990" y="101.5">30.95%</text>
</g>

<g id="row18" transform="translate(0,2602.5)">
<use href="#staff"/>
<g><rect class="sG" x="151" y="-3.5" width="105" height="7"/><rect class="sG" x="391" y="-3.5" width="105" height="7"/><use href="#nG" x="151"/><use href="#nG" x="391"/><use href="#nG" x="976"/></g>
<g transform="translate(0,15)"><rect class="sR" x="31" y="-3.5" width="100" height="7"/><rect class="sR" x="631" y="-3.5" width="105" height="7"/><rect class="sR" x="871" y="-3.5" width="105" height="7"/><use href="#nR" x="31"/><use href="#nR" x="631"/><use href="#nR" x="871"/></g>
<g transform="translate(0,30)"><rect class="sY" x="271" y="-3.5" width="105" height="7"/><use href="#nY" x="271"/><use href="#nY" x="856"/></g>
<g transform="translate(0,45)"><rect class="sB" x="511" y="-3.5" width="105" height="7"/><use href="#nB" x="511"/></g>
<g transform="translate(0,60)"><rect class="sO" x="676" y="-3.5" width="45" height="7"/><use href="#nO" x="676"/></g>
<text class="mn" x="31" y="-7.5">69</text><text class="mn" x="271" y="-7.5">70</text><text class="mn" x="511" y="-7.5">71</text><text class="mn" x="751" y="-7.5">72</text>
<text class="c1" x="270" y="76.5">92</text><text class="c2" x="270" y="89.5">67568</text><text class="c3" x="270" y="101.5">30.95%</text>
<text class="c1" x="510" y="76.5">92</text><text class="c2" x="510" y="89.5">67936</text><text class="c3" x="510" y="101.5">30.95%</text>
<text class="c1" x="750" y="76.5">92</text><text class="c2" x="750" y="89.5">68304</text><text class="c3" x="750" y="101.5">30.95%</text>
<text class="c1" x="990" y="76.5">158</text><text class="c2" x="990" y="89.5">68936</text><text class="c3" x="990" y="101.5">30.95%</text>
</g>

<g id="row19" transform="translate(0,2743.5)">
<rect class="yb" x="511" y="-10" width="240" height="81"/>
<use href="#staff"/>
<g><rect class="sG" x="391" y="-3.5" width="105" height="7"/><rect class="sG" x="871" y="-3.5" width="105" height="7"/><use href="#nG" x="151"/><use href="#nG" x="391"/><use href="#tG" x="571"/><use href="#nG" x="871"/></g>
<g transform="translate(0,15)"><rect class="sR" x="631" y="-3.5" width="105" height="7"/><use href="#tR" x="631"/><use href="#nR" x="901"/></g>
<g transform="translate(0,30)"><rect class="sY" x="271" y="-3.5" width="105" height="7"/><use href="#nY" x="271"/><use href="#nY" x="781"/></g>
<g transform="translate(0,45)"><rect class="sB" x="31" y="-3.5" width="105" height="7"/><rect class="sB" x="511" y="-3.5" width="90" height="7"/><use href="#nB" x="31"/><use href="#tB" x="511"/></g>
<g transform="translate(0,60)"><rect class="sO" x="271" y="-3.5" width="105" height="7"/><use href="#nO" x="271"/></g>
<rect class="gv" x="511" y="0" width="240" height="60"/>
<text class="mn" x="31" y="-7.5">73</text><text class="mn" x="271" y="-7.5">74</text><text class="mn" x="511" y="-7.5">75</text><text class="mn" x="751" y="-7.5">76</text>
<text class="c1" x="270" y="76.5">67</text><text class="c2" x="270" y="89.5">69204</text><text class="c3" x="270" y="101.5">30.95%</text>
<text class="c1" x="510" y="76.5">92</text><text class="c2" x="510" y="89.5">69572</text><text class="c3" x="510" y="101.5">30.95%</text>
<text class="c1" x="750" y="76.5">166</text><text class="c2" x="750" y="89.5">70236</text><text class="c3" x="750" y="101.5">61.90%</text>
<text class="c1" x="990" y="76.5">180</text><text class="c2" x="990" y="89.5">70956</text><text class="c3" x="990" y="101.5">61.90%</text>
</g>

<g id="row20" transform="translate(0,2884.5)">
<use href="#staff"/>
<text class="mn" x="31" y="-7.5">77</text><text class="mn" x="271" y="-7.5">78</text><text class="mn" x="511" y="-7.5">79</text><text class="mn" x="751" y="-7.5">80</text>
<text class="c1" x="270" y="76.5">0</text><text class="c2" x="270" y="89.5">70956</text><text class="c3" x="270" y="101.5">61.90%</text>
<text class="c1" x="510" y="76.5">0</text><text class="c2" x="510" y="89.5">70956</text><text class="c3" x="510" y="101.5">61.90%</text>
<text class="c1" x="750" y="76.5">0</text><text class="c2" x="750" y="89.5">70956</text><text class="c3" x="750" y="101.5">61.90%</text>
<text class="c1" x="990" y="76.5">0</text><text class="c2" x="990" y="89.5">70956</text><text class="c3" x="990" y="101.5">61.90%</text>
</g>

<g id="row21" transform="translate(0,3025.5)">
<use href="#staff"/>
<g transform="translate(0,15)"><rect class="sR" x="151" y="-3.5" width="45" height="7"/><use href="#nR" x="31"/><use href="#nR" x="61"/><use href="#nR" x="91"/><use href="#nR" x="151"/><use href="#nR" x="211"/></g>
<g transform="translate(0,30)"><use href="#nY" x="31"/><use href="#nY" x="61"/><use href="#nY" x="91"/><use href="#nY" x="121"/><use href="#nY" x="211"/><use href="#nY" x="241"/></g>
<rect class="mk" x="962" y="0" width="6" height="60"/>
<rect class="bv" x="968" y="0" width="23" height="60"/>
<text class="mn" x="31" y="-7.5">81</text><text class="mn" x="271" y="-7.5">82</text><text class="mn" x="511" y="-7.5">83</text><text class="mn" x="751" y="-7.5">84</text>
<text class="c1" x="270" y="76.5">368</text><text class="c2" x="270" y="89.5">72428</text><text class="c3" x="270" y="101.5">61.90%</text>
<text class="c1" x="510" y="76.5">0</text><text class="c2" x="510" y="89.5">72428</text><text class="c3" x="510" y="101.5">61.90%</text>
<text class="c1" x="750" y="76.5">0</text><text class="c2" x="750" y="89.5">72428</text><text class="c3" x="750" y="101.5">61.90%</text>
<text class="c1" x="990" y="76.5">50</text><text class="c2" x="990" y="89.5">72628</text><text class="c3" x="990" y="101.5">60.71%</text>
</g>

<g id="row22" transform="translate(0,3166.5)">
<use href="#staff"/>
<g><rect class="sG" x="721" y="-3.5" width="45" height="7"/><use href="#nG" x="106"/><use href="#nG" x="166"/><use href="#nG" x="316"/><use href="#nG" x="361"/><use href="#nG" x="421"/><use href="#nG" x="526"/><use href="#nG" x="556"/><use href="#nG" x="721"/><use href="#nG" x="841"/></g>
<g transform="translate(0,15)"><use href="#nR" x="121"/><use href="#nR" x="136"/><use href="#nR" x="286"/><use href="#nR" x="301"/><use href="#nR" x="331"/><use href="#nR" x="376"/><use href="#nR" x="406"/><use href="#nR" x="601"/><use href="#nR" x="661"/><use href="#nR" x="691"/><use href="#nR" x="781"/><use href="#nR" x="931"/></g>
<g transform="translate(0,30)"><rect class="sY" x="871" y="-3.5" width="45" height="7"/><use href="#nY" x="76"/><use href="#nY" x="91"/><use href="#nY" x="151"/><use href="#nY" x="196"/><use href="#nY" x="226"/><use href="#nY" x="271"/><use href="#nY" x="391"/><use href="#nY" x="451"/><use href="#nY" x="511"/><use href="#nY" x="541"/><use href="#nY" x="571"/><use href="#nY" x="631"/><use href="#nY" x="811"/><use href="#nY" x="871"/></g>
<g transform="translate(0,45)"><use href="#nB" x="181"/><use href="#nB" x="211"/><use href="#nB" x="436"/><use href="#nB" x="466"/><use href="#nB" x="646"/><use href="#nB" x="706"/><use href="#nB" x="901"/><use href="#nB" x="961"/></g>
<g transform="translate(0,60)"><rect class="sO" x="31" y="-3.5" width="225" height="7"/><use href="#nO" x="31"/></g>
<rect class="bv" x="31" y="0" width="960" height="60"/>
<text class="mn" x="31" y="-7.5">85</text><text class="mn" x="271" y="-7.5">86</text><text class="mn" x="511" y="-7.5">87</text><text class="mn" x="751" y="-7.5">88</text>
<text class="c1" x="270" y="76.5">182</text><text class="c2" x="270" y="89.5">74084</text><text class="c3" x="270" y="101.5">48.21%</text>
<text class="c1" x="510" y="76.5">472</text><text class="c2" x="510" y="89.5">77864</text><text class="c3" x="510" y="101.5">35.71%</text>
<text class="c1" x="750" y="76.5">206</text><text class="c2" x="750" y="89.5">79512</text><text class="c3" x="750" y="101.5">23.21%</text>
<text class="c1" x="990" y="76.5">60</text><text class="c2" x="990" y="89.5">79996</text><text class="c3" x="990" y="101.5">10.71%</text>
</g>

<g id="row23" transform="translate(0,3307.5)">
<use href="#staff"/>
<g><use href="#tG" x="31"/><use href="#nG" x="421"/><use href="#nG" x="526"/><use href="#nG" x="556"/><use href="#nG" x="586"/><use href="#nG" x="616"/><use href="#nG" x="841"/><use href="#nG" x="901"/><use href="#nG" x="961"/></g>
<g transform="translate(0,15)"><rect class="sR" x="361" y="-3.5" width="45" height="7"/><rect class="sR" x="601" y="-3.5" width="45" height="7"/><use href="#nR" x="361"/><use href="#nR" x="507"/><use href="#nR" x="541"/><use href="#nR" x="571"/><use href="#nR" x="601"/><use href="#nR" x="661"/><use href="#nR" x="751"/><use href="#nR" x="781"/><use href="#nR" x="811"/></g>
<g transform="translate(0,30)"><rect class="sY" x="301" y="-3.5" width="45" height="7"/><rect class="sY" x="826" y="-3.5" width="45" height="7"/><use href="#tY" x="241"/><use href="#nY" x="301"/><use href="#nY" x="451"/><use href="#nY" x="485"/><use href="#nY" x="631"/><use href="#nY" x="691"/><use href="#nY" x="721"/><use href="#nY" x="766"/><use href="#nY" x="796"/><use href="#nY" x="826"/><use href="#nY" x="931"/></g>
<g transform="translate(0,45)"><use href="#tB" x="61"/><use href="#tB" x="151"/><use href="#tB" x="211"/><use href="#nB" x="271"/><use href="#nB" x="476"/><use href="#nB" x="496"/><use href="#nB" x="646"/><use href="#nB" x="676"/><use href="#nB" x="706"/><use href="#nB" x="856"/><use href="#nB" x="916"/><use href="#nB" x="976"/></g>
<g transform="translate(0,60)"><rect class="sO" x="91" y="-3.5" width="45" height="7"/><use href="#tO" x="91"/><use href="#tO" x="166"/><use href="#nO" x="466"/><use href="#nO" x="736"/></g>
<rect class="gv" x="31" y="0" width="210" height="60"/>
<rect class="bv" x="31" y="0" width="960" height="60"/>
<rect class="bd" x="31" y="-8" width="960" height="79"/>
<text class="mn" x="31" y="-7.5">89</text><text class="mn" x="271" y="-7.5">90</text><text class="mn" x="511" y="-7.5">91</text><text class="mn" x="751" y="-7.5">92</text>
<text class="c1" x="270" y="76.5">184</text><text class="c2" x="270" y="89.5">81468</text><text class="c3" x="270" y="101.5">25.76%</text>
<text class="c1" x="510" y="76.5">268</text><text class="c2" x="510" y="89.5">83612</text><text class="c3" x="510" y="101.5">13.26%</text>
<text class="c1" x="750" y="76.5">475</text><text class="c2" x="750" y="89.5">87412</text><text class="c3" x="750" y="101.5">0.76%</text>
<text class="c1" x="990" y="76.5">403</text><text class="c2" x="990" y="89.5">90636</text><text class="c3" x="990" y="101.5">0.00%</text>
</g>

<g id="row24" transform="translate(0,3448.5)">
<use href="#staff"/>
<g><rect class="sG" x="31" y="-3.5" width="420" height="7"/><rect class="sG" x="931" y="-3.5" width="60" height="7"/><use href="#nG" x="31"/><use href="#nG" x="931"/></g>
<g transform="translate(0,15)"><rect class="sR" x="721" y="-3.5" width="120" height="7"/><use href="#nR" x="721"/><use href="#nR" x="901"/></g>
<g transform="translate(0,30)"><use href="#nY" x="871"/></g>
<g transform="translate(0,45)"><rect class="sB" x="601" y="-3.5" width="90" height="7"/><use href="#nB" x="601"/></g>
<g transform="translate(0,60)"><rect class="sO" x="721" y="-3.5" width="40" height="7"/><use href="#nO" x="721"/></g>
<rect class="bv" x="31" y="0" width="254" height="60"/>
<rect class="bd" x="31" y="-10" width="480" height="81"/>
<text class="mn" x="31" y="-7.5">93</text><text class="mn" x="271" y="-7.5">94</text><text class="mn" x="511" y="-7.5">95</text><text class="mn" x="751" y="-7.5">96</text>
<text class="c1" x="270" y="76.5">150</text><text class="c2" x="270" y="89.5">91836</text><text class="c3" x="270" y="101.5">0.00%</text>
<text class="c1" x="510" y="76.5">292</text><text class="c2" x="510" y="89.5">96176</text><text class="c3" x="510" y="101.5">0.00%</text>
<text class="c1" x="750" y="76.5">217</text><text class="c2" x="750" y="89.5">100044</text><text class="c3" x="750" y="101.5">0.00%</text>
<text class="c1" x="990" y="76.5">133</text><text class="c2" x="990" y="89.5">100576</text><text class="c3" x="990" y="101.5">0.00%</text>
</g>

<g id="row25" transform="translate(0,3589.5)">
<rect class="yb" x="31" y="-10" width="225" height="81"/>
<use href="#staff"/>
<g><rect class="sG" x="151" y="-3.5" width="105" height="7"/><rect class="sG" x="511" y="-3.5" width="105" height="7"/><rect class="sG" x="871" y="-3.5" width="120" height="7"/><use href="#tG" x="151"/><use href="#nG" x="511"/><use href="#nG" x="871"/></g>
<g transform="translate(0,15)"><rect class="sR" x="631" y="-3.5" width="105" height="7"/><rect class="sR" x="751" y="-3.5" width="75" height="7"/><use href="#nR" x="631"/><use href="#nR" x="751"/></g>
<g transform="translate(0,30)"><rect class="sY" x="391" y="-3.5" width="105" height="7"/><use href="#tY" x="91"/><use href="#nY" x="391"/></g>
<g transform="translate(0,45)"><rect class="sB" x="31" y="-3.5" width="75" height="7"/><rect class="sB" x="811" y="-3.5" width="60" height="7"/><use href="#tB" x="31"/><use href="#nB" x="811"/></g>
<g transform="translate(0,60)"><rect class="sO" x="271" y="-3.5" width="105" height="7"/><use href="#nO" x="271"/></g>
<rect class="gv" x="31" y="0" width="225" height="60"/>
<text class="mn" x="31" y="-7.5">97</text><text class="mn" x="271" y="-7.5">98</text><text class="mn" x="511" y="-7.5">99</text><text class="mn" x="751" y="-7.5">100</text>
<text class="c1" x="270" y="76.5">92</text><text class="c2" x="270" y="89.5">100944</text><text class="c3" x="270" y="101.5">30.95%</text>
<text class="c1" x="510" y="76.5">92</text><text class="c2" x="510" y="89.5">101312</text><text class="c3" x="510" y="101.5">30.95%</text>
<text class="c1" x="750" y="76.5">132</text><text class="c2" x="750" y="89.5">101840</text><text class="c3" x="750" y="101.5">30.95%</text>
<text class="c1" x="990" y="76.5">167</text><text class="c2" x="990" y="89.5">102508</text><text class="c3" x="990" y="101.5">30.95%</text>
</g>

<g id="row26" transform="translate(0,3730.5)">
<use href="#staff"/>
<g><rect class="sG" x="151" y="-3.5" width="105" height="7"/><rect class="sG" x="871" y="-3.5" width="105" height="7"/><use href="#nG" x="151"/><use href="#nG" x="871"/></g>
<g transform="translate(0,15)"><rect class="sR" x="31" y="-3.5" width="105" height="7"/><rect class="sR" x="631" y="-3.5" width="105" height="7"/><use href="#nR" x="31"/><use href="#nR" x="631"/></g>
<g transform="translate(0,30)"><rect class="sY" x="271" y="-3.5" width="105" height="7"/><use href="#nY" x="271"/><use href="#nY" x="841"/></g>
<g transform="translate(0,45)"><rect class="sB" x="751" y="-3.5" width="75" height="7"/><use href="#nB" x="751"/></g>
<g transform="translate(0,60)"><rect class="sO" x="391" y="-3.5" width="105" height="7"/><use href="#nO" x="391"/></g>
<rect class="mk" x="591" y="0" width="6" height="60"/>
<rect class="bv" x="597" y="0" width="394" height="60"/>
<text class="mn" x="31" y="-7.5">101</text><text class="mn" x="271" y="-7.5">102</text><text class="mn" x="511" y="-7.5">103</text><text class="mn" x="751" y="-7.5">104</text>
<text class="c1" x="270" y="76.5">108</text><text class="c2" x="270" y="89.5">102940</text><text class="c3" x="270" y="101.5">30.95%</text>
<text class="c1" x="510" y="76.5">94</text><text class="c2" x="510" y="89.5">103316</text><text class="c3" x="510" y="101.5">30.95%</text>
<text class="c1" x="750" y="76.5">120</text><text class="c2" x="750" y="89.5">103993</text><text class="c3" x="750" y="101.5">22.94%</text>
<text class="c1" x="990" y="76.5">120</text><text class="c2" x="990" y="89.5">104952</text><text class="c3" x="990" y="101.5">10.44%</text>
</g>

<g id="row27" transform="translate(0,3871.5)">
<rect class="yb" x="865" y="-10" width="126" height="81"/>
<use href="#staff"/>
<g transform="translate(0,15)"><rect class="sR" x="631" y="-3.5" width="105" height="7"/><use href="#nR" x="631"/></g>
<g transform="translate(0,30)"><rect class="sY" x="151" y="-3.5" width="60" height="7"/><rect class="sY" x="511" y="-3.5" width="105" height="7"/><rect class="sY" x="871" y="-3.5" width="105" height="7"/><use href="#nY" x="151"/><use href="#nY" x="271"/><use href="#nY" x="511"/><use href="#nY" x="751"/><use href="#nY" x="871"/></g>
<g transform="translate(0,45)"><rect class="sB" x="31" y="-3.5" width="75" height="7"/><use href="#nB" x="31"/></g>
<g transform="translate(0,60)"><rect class="sO" x="391" y="-3.5" width="105" height="7"/><use href="#nO" x="391"/></g>
<rect class="bv" x="31" y="0" width="834" height="60"/>
<text class="mn" x="31" y="-7.5">105</text><text class="mn" x="271" y="-7.5">106</text><text class="mn" x="511" y="-7.5">107</text><text class="mn" x="751" y="-7.5">108</text>
<text class="c1" x="270" y="76.5">88</text><text class="c2" x="270" y="89.5">105660</text><text class="c3" x="270" y="101.5">5.94%</text>
<text class="c1" x="510" y="76.5">49</text><text class="c2" x="510" y="89.5">106056</text><text class="c3" x="510" y="101.5">0.00%</text>
<text class="c1" x="750" y="76.5">146</text><text class="c2" x="750" y="89.5">107224</text><text class="c3" x="750" y="101.5">0.00%</text>
<text class="c1" x="990" y="76.5">387</text><text class="c2" x="990" y="89.5">108772</text><text class="c3" x="990" y="101.5">0.00%</text>
</g>
</svg>
